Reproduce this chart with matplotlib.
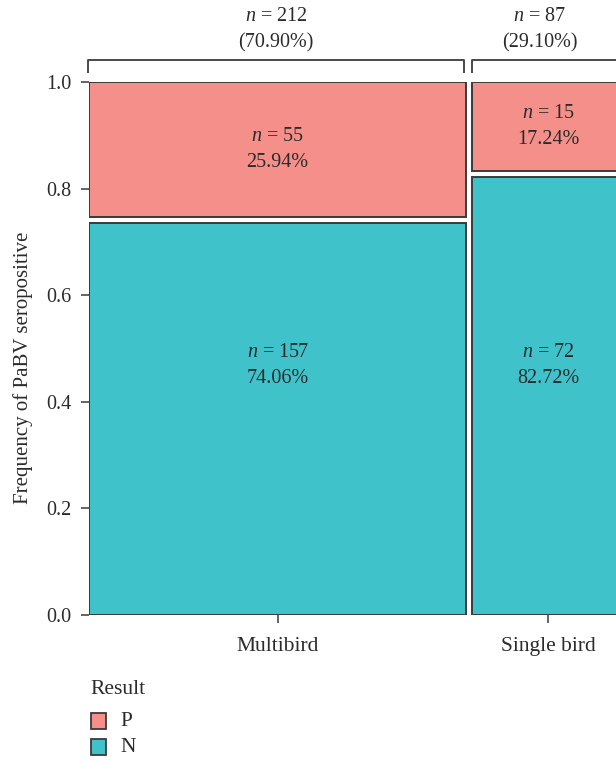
import matplotlib.pyplot as plt
from matplotlib.patches import Rectangle

# counts per housing group
groups = ['Multibird', 'Single bird']
n_pos = [55, 15]
n_neg = [157, 72]
pct_pos = ['25.94%', '17.24%']
pct_neg = ['74.06%', '82.72%']
pct_group = ['(70.90%)', '(29.10%)']
results = ['P', 'N']
colors = {'P': '#F58F8A', 'N': '#40C2CA'}

plt.rcParams['font.family'] = ['Liberation Serif', 'DejaVu Serif']
plt.rcParams['mathtext.fontset'] = 'custom'
plt.rcParams['mathtext.it'] = 'Liberation Serif:italic'
plt.rcParams['mathtext.rm'] = 'Liberation Serif'
txt_col = '#2b2b2b'
edge = '#3a3a3a'
fs = 14.5
fs_word = 15.5

W, H = 616, 763
fig = plt.figure(figsize=(W / 100, H / 100), dpi=100)
ax = fig.add_axes([89 / W, (H - 615) / H, 536 / W, 533 / H])
ax.set_xlim(0, 1)
ax.set_ylim(0, 1)
for s in ax.spines.values():
    s.set_visible(False)

totals = [p + n for p, n in zip(n_pos, n_neg)]
grand = sum(totals)
hgap = 0.011
vgap = 0.012

left = 0
centers = []
for i, g in enumerate(groups):
    w = totals[i] / grand
    x0 = left + (hgap / 2 if i > 0 else 0)
    x1 = left + w - (hgap / 2 if i < len(groups) - 1 else 0)
    cx = (x0 + x1) / 2
    centers.append(cx)
    fneg = n_neg[i] / totals[i]
    # N at bottom, P on top
    ax.add_patch(Rectangle((x0, 0), x1 - x0, fneg - vgap / 2,
                           facecolor=colors['N'], edgecolor=edge, lw=1.4))
    ax.add_patch(Rectangle((x0, fneg + vgap / 2), x1 - x0, 1 - fneg - vgap / 2,
                           facecolor=colors['P'], edgecolor=edge, lw=1.4))
    yp = (fneg + vgap / 2 + 1) / 2
    ax.text(cx, yp + 0.024, f'$n$ = {n_pos[i]}', ha='center', va='center',
            fontsize=fs, color=txt_col)
    ax.text(cx, yp - 0.025, pct_pos[i], ha='center', va='center',
            fontsize=fs, color=txt_col)
    yn = 0.468
    ax.text(cx, yn + 0.024, f'$n$ = {n_neg[i]}', ha='center', va='center',
            fontsize=fs, color=txt_col)
    ax.text(cx, yn - 0.025, pct_neg[i], ha='center', va='center',
            fontsize=fs, color=txt_col)

    # bracket on top
    if i == 0:
        bx0, bx1 = x0 - 0.002, x1 - 0.004
        bc = (bx0 + bx1) / 2
        xs, ys = [bx0, bx0, bx1, bx1], [1.017, 1.0413, 1.0413, 1.017]
    else:
        bx0, bx1 = x0, x1
        bc = cx - 0.017
        xs, ys = [bx0, bx0, bx1], [1.017, 1.0413, 1.0413]
    ax.plot(xs, ys, color=edge, lw=1.3, clip_on=False, solid_capstyle='butt')
    ax.text(bc, 1.122, f'$n$ = {totals[i]}', ha='center', va='center',
            fontsize=fs, color=txt_col, clip_on=False)
    ax.text(bc, 1.073, pct_group[i], ha='center', va='center',
            fontsize=fs, color=txt_col, clip_on=False)
    left += w

ax.set_xticks(centers)
ax.set_xticklabels(groups, fontsize=fs_word)
ax.set_yticks([0, 0.2, 0.4, 0.6, 0.8, 1.0])
ax.set_yticklabels(['0.0', '0.2', '0.4', '0.6', '0.8', '1.0'])
ax.tick_params(length=5.5, width=1.1, color=edge, labelcolor=txt_col)
ax.tick_params(axis='y', labelsize=fs, pad=7)
ax.tick_params(axis='x', pad=10)

fig.text(23 / W, 1 - 368 / H, 'Frequency of PaBV seropositive', rotation=90,
         ha='center', va='center', fontsize=15, color=txt_col)

# legend
fig.text(90 / W, 1 - 689 / H, 'Result', ha='left', va='center',
         fontsize=fs_word, color=txt_col)
for j, r in enumerate(results):
    yc = 721 + j * 26
    fig.patches.append(Rectangle((91 / W, 1 - (yc + 8) / H), 15 / W, 16 / H,
                                 transform=fig.transFigure,
                                 facecolor=colors[r], edgecolor=edge, lw=1.3))
    fig.text(120 / W, 1 - yc / H, r, ha='left', va='center',
             fontsize=fs_word, color=txt_col)

fig.savefig('out.png', dpi=100)
